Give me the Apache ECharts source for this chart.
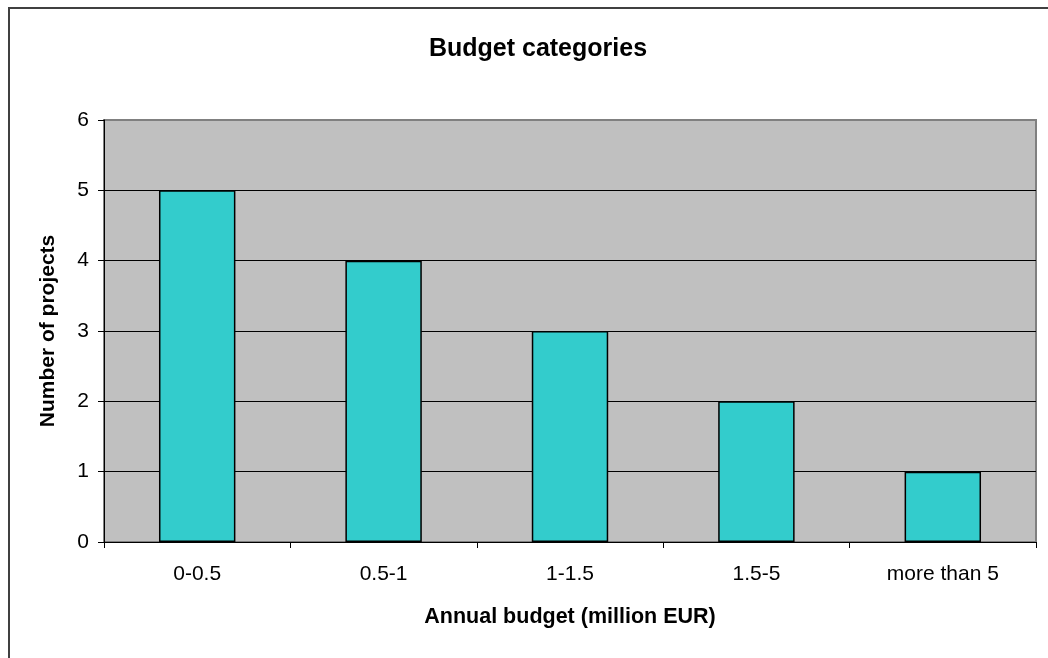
<!DOCTYPE html>
<html>
<head>
<meta charset="utf-8">
<script src="https://cdn.jsdelivr.net/npm/echarts@6/dist/echarts.min.js"></script>
<style>html,body{margin:0;padding:0;background:#fff;}#c{width:1048px;height:658px;}</style>
</head>
<body>
<div id="c"></div>
<script>
const categories = ['0-0.5', '0.5-1', '1-1.5', '1.5-5', 'more than 5'];
const projectCounts = [5, 4, 3, 2, 1];
const yTicks = [0, 1, 2, 3, 4, 5, 6];

const chart = echarts.init(document.getElementById('c'));
const font = 'Liberation Sans, Arial, sans-serif';
chart.setOption({
  animation: false,
  backgroundColor: '#ffffff',
  title: {
    text: 'Budget categories',
    left: 533, top: 32, textAlign: 'center',
    textStyle: { fontFamily: font, fontSize: 25, fontWeight: 'bold', color: '#000' }
  },
  graphic: [{
    type: 'rect', z: 100, silent: true,
    shape: { x: 9, y: 8, width: 1100, height: 700 },
    style: { fill: 'none', stroke: '#404040', lineWidth: 2 }
  }],
  grid: {
    left: 104, top: 120, right: 12, bottom: 116,
    show: true, backgroundColor: '#C0C0C0', borderColor: '#808080', borderWidth: 2
  },
  xAxis: {
    type: 'category', data: categories, boundaryGap: true,
    name: 'Annual budget (million EUR)', nameLocation: 'middle', nameGap: 64,
    nameTextStyle: { fontFamily: font, fontSize: 21.5, fontWeight: 'bold', color: '#000' },
    axisLine: { lineStyle: { color: '#000', width: 1 } },
    axisTick: { show: true, length: 6, lineStyle: { color: '#000' } },
    axisLabel: { margin: 22, fontFamily: font, fontSize: 21, color: '#000' },
    splitLine: { show: false }
  },
  yAxis: {
    type: 'value', min: yTicks[0], max: yTicks[yTicks.length - 1], interval: 1,
    name: 'Number of projects', nameLocation: 'middle', nameGap: 45,
    nameTextStyle: { fontFamily: font, fontSize: 21, fontWeight: 'bold', color: '#000' },
    axisLine: { show: true, lineStyle: { color: '#000', width: 1 } },
    axisTick: { show: true, length: 6, lineStyle: { color: '#000' } },
    axisLabel: { margin: 15, fontFamily: font, fontSize: 21, color: '#000' },
    splitLine: { show: true, lineStyle: { color: ['#000', '#000', '#000', '#000', '#000', '#000', '#808080'], width: 1 } }
  },
  series: [{
    type: 'bar', data: projectCounts, barWidth: '41%',
    itemStyle: { color: '#33CCCC', borderColor: '#000', borderWidth: 1.5 }
  }]
});
</script>
</body>
</html>
